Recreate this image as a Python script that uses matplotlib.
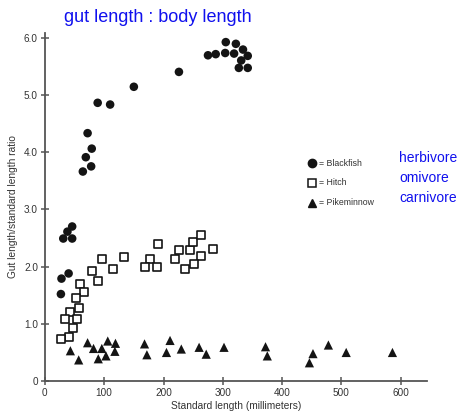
import matplotlib
matplotlib.use('Agg')
import matplotlib.pyplot as plt

plt.rcParams['font.family'] = ['Liberation Sans', 'DejaVu Sans']

# Blackfish (herbivore)
blackfish_x = [305, 322, 275, 288, 304, 319, 334, 342, 331, 327, 342, 226, 150, 89, 110,
               72, 69, 79, 78, 64, 31, 38, 46, 46, 28, 40, 27]
blackfish_y = [5.92, 5.89, 5.69, 5.71, 5.73, 5.72, 5.79, 5.68, 5.60, 5.47, 5.47, 5.40, 5.14, 4.86, 4.83,
               4.33, 3.91, 4.06, 3.75, 3.66, 2.49, 2.61, 2.70, 2.49, 1.79, 1.88, 1.52]

# Hitch (omnivore)
hitch_x = [97, 134, 115, 79, 190, 178, 169, 189, 219, 226, 245, 250, 264, 283, 264, 252, 237,
           90, 60, 66, 52, 58, 43, 34, 54, 47, 41, 27]
hitch_y = [2.14, 2.16, 1.95, 1.92, 2.39, 2.13, 1.99, 2.00, 2.14, 2.29, 2.29, 2.43, 2.56, 2.31, 2.18, 2.05, 1.95,
           1.75, 1.70, 1.56, 1.46, 1.27, 1.21, 1.08, 1.08, 0.92, 0.77, 0.73]

# Pikeminnow (carnivore)
pike_x = [72, 82, 96, 106, 119, 118, 103, 90, 43, 57, 168, 172, 205, 211, 230, 260, 272, 302,
          372, 375, 446, 452, 478, 508, 586]
pike_y = [0.67, 0.57, 0.57, 0.70, 0.66, 0.52, 0.44, 0.39, 0.53, 0.37, 0.65, 0.46, 0.50, 0.71, 0.56, 0.59, 0.47, 0.59,
          0.60, 0.44, 0.32, 0.48, 0.63, 0.50, 0.50]

x_ticks = [0, 100, 200, 300, 400, 500, 600]
y_ticks = [0, 1, 2, 3, 4, 5, 6]
y_tick_labels = ['0', '1.0', '2.0', '3.0', '4.0', '5.0', '6.0']

legend_names = ['= Blackfish', '= Hitch', '= Pikeminnow']
diet_names = ['herbivore', 'omivore', 'carnivore']

fig = plt.figure(figsize=(4.58, 4.12), dpi=100)
ax = fig.add_axes([0.098, 0.075, 0.834, 0.845])

ink = '#141414'
ax.scatter(blackfish_x, blackfish_y, s=38, marker='o', color=ink, edgecolors='none', clip_on=False)
ax.scatter(hitch_x, hitch_y, s=40, marker='s', facecolors='white', edgecolors=ink, linewidths=1.2, clip_on=False)
ax.scatter(pike_x, pike_y, s=44, marker='^', color=ink, edgecolors='none', clip_on=False)

ax.set_xlim(0, 644)
ax.set_ylim(0, 6.08)
ax.set_xticks(x_ticks)
ax.set_yticks(y_ticks)
ax.set_yticklabels(y_tick_labels)

for s in ['top', 'right']:
    ax.spines[s].set_visible(False)
for s in ['left', 'bottom']:
    ax.spines[s].set_color('#555555')
    ax.spines[s].set_linewidth(1.3)
ax.tick_params(direction='inout', length=6, width=1.1, colors='#555555',
               labelsize=7.2, labelcolor='#333333', pad=2)

ax.set_xlabel('Standard length (millimeters)', fontsize=7.3, color='#333333', labelpad=2)
ax.set_ylabel('Gut length/standard length ratio', fontsize=7.3, color='#333333', labelpad=4)

fig.text(0.14, 0.958, 'gut length : body length', fontsize=13, color='#1010ee', va='center')

# legend drawn as text in figure coordinates
leg_markers = ['o', 's', '^']
leg_y = [0.604, 0.556, 0.508]
for i in range(3):
    if leg_markers[i] == 's':
        fig.add_artist(plt.Line2D([0.682], [leg_y[i]], marker='s', markersize=5.5, markerfacecolor='white',
                                  markeredgecolor=ink, markeredgewidth=1.1, linestyle='none'))
    else:
        fig.add_artist(plt.Line2D([0.682], [leg_y[i]], marker=leg_markers[i], markersize=6,
                                  color=ink, linestyle='none'))
    fig.text(0.697, leg_y[i], legend_names[i], fontsize=6.3, color='#333333', va='center')
    fig.text(0.872, leg_y[i] + 0.012, diet_names[i], fontsize=10, color='#1010ee', va='center')

fig.savefig('out.png', dpi=100)
